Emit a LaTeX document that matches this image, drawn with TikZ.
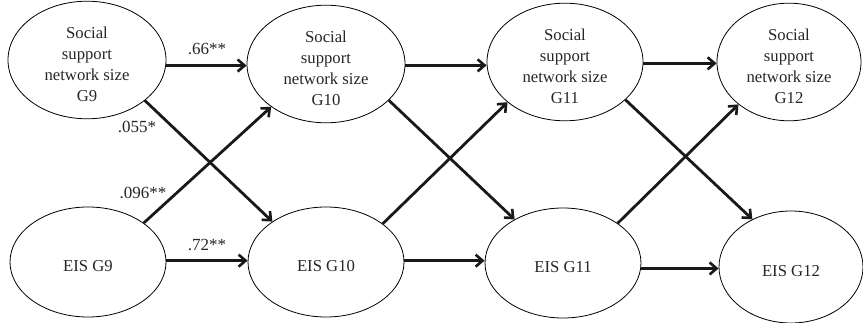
\documentclass[tikz,border=0pt]{standalone}
\usepackage{fontspec}
\setmainfont{Liberation Serif}
\usetikzlibrary{arrows.meta,shapes.geometric}
\newcommand{\mytopstrut}{\rule{0pt}{20pt}}
\begin{document}
\begin{tikzpicture}[x=1pt,y=-1pt,
  latent/.style={draw,ellipse,line width=0.8pt,inner sep=0pt,align=center,
    font=\fontsize{16.7}{21}\selectfont,text=black!85},
  path/.style={line width=2.8pt,draw=black!90,
    -{Straight Barb[length=7pt,width=12pt,line width=2.6pt]}},
  coef/.style={font=\fontsize{17}{20}\selectfont,text=black!85,inner sep=0pt}]
\useasboundingbox (0,0) rectangle (863,323);
\node[latent,minimum width=158pt,minimum height=112pt] (s9)  at (87,60)  {\mytopstrut Social\\support\\network size\\G9};
\node[latent,minimum width=156pt,minimum height=110pt] (e9)  at (88,262) {\mytopstrut EIS G9};
\node[latent,minimum width=158pt,minimum height=112pt] (s10) at (326,64) {\mytopstrut Social\\support\\network size\\G10};
\node[latent,minimum width=156pt,minimum height=110pt] (e10) at (326,262) {\mytopstrut EIS G10};
\node[latent,minimum width=156pt,minimum height=112pt] (s11) at (565,62) {\mytopstrut Social\\support\\network size\\G11};
\node[latent,minimum width=156pt,minimum height=110pt] (e11) at (563,263) {\mytopstrut EIS G11};
\node[latent,minimum width=144pt,minimum height=112pt] (s12) at (789,62) {\mytopstrut Social\\support\\network size\\G12};
\node[latent,minimum width=144pt,minimum height=112pt] (e12) at (791,267) {\mytopstrut EIS G12};
% horizontal paths
\draw[path] (s9.-4.3) -- (s9.-4.3 -| s10.west);
\draw[path] (e9.1.5) -- (e9.1.5 -| e10.west);
\draw[path] (s10.-1) -- (s10.-1 -| s11.west);
\draw[path] (e10.1.5) -- (e10.1.5 -| e11.west);
\draw[path] (s11.-1.5) -- (s11.-1.5 -| s12.west);
\draw[path] (e11.-4.4) -- (e11.-4.4 -| e12.west);
% cross-lagged paths
\draw[path] (s9.-35.1) -- (e10.143.5);
\draw[path] (e9.35.5) -- (s10.218.2);
\draw[path] (s10.-30.7) -- (e11.138.1);
\draw[path] (e10.34.9) -- (s11.215.1);
\draw[path] (s11.-32.5) -- (e12.129);
\draw[path] (e11.36) -- (s12.220.4);
% coefficients
\node[coef] (c1) at (207,49) {.66**};
\node[coef] (c2) at (207,245) {.72**};
\node[coef] (c3) at (137,127) {.055*};
\node[coef] (c4) at (143,193) {.096**};
\end{tikzpicture}
\end{document}
